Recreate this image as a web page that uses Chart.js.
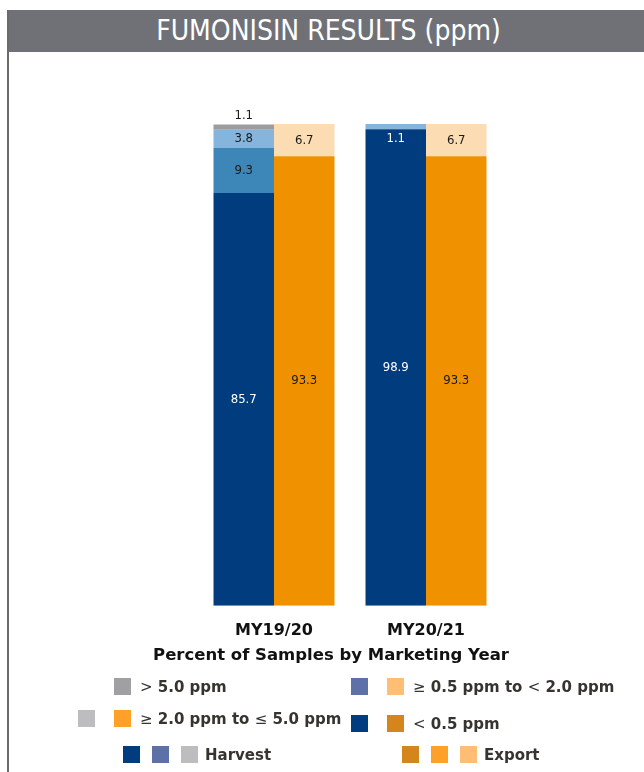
<!DOCTYPE html>
<html>
<head>
<meta charset="utf-8">
<script src="https://cdn.jsdelivr.net/npm/chart.js@4/dist/chart.umd.min.js"></script>
<style>
body{margin:0;background:#fff;width:644px;height:772px;overflow:hidden;position:relative;font-family:"DejaVu Sans",sans-serif;}
#chart{position:absolute;left:0;top:0;}
.head{position:absolute;left:7px;top:10px;width:637px;height:42px;background:#707176;color:#fff;
font-family:"Liberation Sans Narrow","DejaVu Sans Condensed",sans-serif;font-size:28px;line-height:42px;text-align:center;text-indent:6px;}
.lline{position:absolute;left:7px;top:10px;width:2px;height:762px;background:#6b6b6b;}
.sw{position:absolute;width:17px;height:17px;}
.lt{position:absolute;font-weight:bold;font-size:15px;color:#36342f;white-space:nowrap;line-height:18px;}
.lt span{font-weight:normal;}
</style>
</head>
<body>
<canvas id="chart" width="644" height="772"></canvas>
<div class="head">FUMONISIN RESULTS (ppm)</div>
<div class="lline"></div>

<div class="sw" style="left:114px;top:678px;background:#a0a0a3"></div>
<div class="lt" style="left:140px;top:678px"><span>&gt;</span> 5.0 ppm</div>
<div class="sw" style="left:78px;top:710px;background:#bdbdbf"></div>
<div class="sw" style="left:114px;top:710px;background:#ffa028"></div>
<div class="lt" style="left:140px;top:710px"><span>&ge;</span> 2.0 ppm to <span>&le;</span> 5.0 ppm</div>
<div class="sw" style="left:351px;top:678px;background:#5e70a8"></div>
<div class="sw" style="left:387px;top:678px;background:#ffbe74"></div>
<div class="lt" style="left:413px;top:678px"><span>&ge;</span> 0.5 ppm to <span>&lt;</span> 2.0 ppm</div>
<div class="sw" style="left:351px;top:715px;background:#003c7e"></div>
<div class="sw" style="left:387px;top:715px;background:#d4851b"></div>
<div class="lt" style="left:413px;top:715px"><span>&lt;</span> 0.5 ppm</div>
<div class="sw" style="left:123px;top:746px;background:#003c7e"></div>
<div class="sw" style="left:152px;top:746px;background:#5e70a8"></div>
<div class="sw" style="left:181px;top:746px;background:#bdbdbf"></div>
<div class="lt" style="left:205px;top:746px">Harvest</div>
<div class="sw" style="left:402px;top:746px;background:#d4851b"></div>
<div class="sw" style="left:431px;top:746px;background:#ffa028"></div>
<div class="sw" style="left:460px;top:746px;background:#ffbe74"></div>
<div class="lt" style="left:484px;top:746px">Export</div>

<script>
// DATA
const years = ["MY19/20", "MY20/21"]

const harvestLt05 = [85.7, 98.9]
const harvest05to2 = [9.3, 0]
const harvest2to5 = [3.8, 1.1]
const harvestGt5 = [1.1, 0]

const exportLt05 = [93.3, 93.3]
const export05to2 = [6.7, 6.7]

const xTitle = "Percent of Samples by Marketing Year"


// LABELS ON THE BARS + AXIS TITLE (drawn here so it is not squeezed to the plot width)

const barLabels = {
id: "barLabels",
afterDatasetsDraw(chart){
let c = chart.ctx
c.save()
c.font = '13px "Liberation Sans Narrow","DejaVu Sans Condensed",sans-serif'
c.textAlign = "center"
c.textBaseline = "middle"
chart.data.datasets.forEach((ds, i) => {
let meta = chart.getDatasetMeta(i)
meta.data.forEach((bar, j) => {
let v = ds.data[j]
if(!v) return
let h = Math.abs(bar.base - bar.y)
let y = (bar.y + bar.base) / 2
c.fillStyle = ds.textColor
if(h < 12){
if(ds.smallAbove){ y = bar.y - 9 }
else { y = bar.base + 9; c.fillStyle = "#ffffff" }
}
c.fillText(v.toFixed(1), bar.x, y)
})
})

let xs = chart.scales.x
c.font = 'bold 16.5px "DejaVu Sans"'
c.fillStyle = "#111"
c.fillText(xTitle, (xs.left + xs.right) / 2 - 19, chart.chartArea.bottom + 50)
c.restore()
}
}

new Chart(document.getElementById("chart"), {
type: "bar",
data: {
labels: years,
datasets: [
{label: "< 0.5 ppm", data: harvestLt05, stack: "harvest", backgroundColor: "#003c7e", textColor: "#ffffff"},
{label: "0.5 - 2.0 ppm", data: harvest05to2, stack: "harvest", backgroundColor: "#3c86b8", textColor: "#1a1a1a"},
{label: "2.0 - 5.0 ppm", data: harvest2to5, stack: "harvest", backgroundColor: "#85b4dc", textColor: "#1a1a1a"},
{label: "> 5.0 ppm", data: harvestGt5, stack: "harvest", backgroundColor: "#9d9d9f", textColor: "#1a1a1a", smallAbove: true},
{label: "Export < 0.5 ppm", data: exportLt05, stack: "export", backgroundColor: "#f09100", textColor: "#1a1a1a"},
{label: "Export 0.5 - 2.0 ppm", data: export05to2, stack: "export", backgroundColor: "#fcdcb2", textColor: "#1a1a1a"}
]
},
options: {
responsive: false,
animation: false,
categoryPercentage: 0.796,
barPercentage: 1,
layout: {padding: {left: 198, right: 142, top: 124, bottom: 117}},
plugins: {legend: {display: false}, tooltip: {enabled: false}},
scales: {
x: {
stacked: true,
grid: {display: false, drawTicks: false},
border: {display: false},
ticks: {padding: 15, color: "#111", font: {family: "DejaVu Sans", size: 16, weight: "bold"}}
},
y: {stacked: true, display: false, min: 0, max: 100}
}
},
plugins: [barLabels]
})
</script>
</body>
</html>
